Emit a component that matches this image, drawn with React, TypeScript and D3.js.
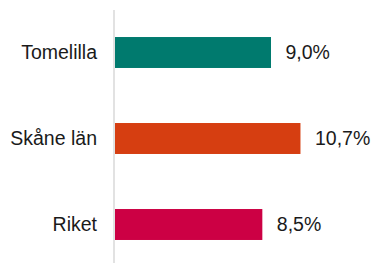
import React from "react";
import * as d3 from "d3";

const categories = ["Tomelilla", "Skåne län", "Riket"];
const values = [9.0, 10.7, 8.5];
const valueLabels = ["9,0%", "10,7%", "8,5%"];
const colors = ["#007A6E", "#D63E11", "#CC0044"];

const W = 373;
const H = 263;

export default function App() {
  const x = d3.scaleLinear().domain([0, 12]).range([115, 323]);
  const y = d3
    .scaleBand<string>()
    .domain(categories)
    .range([9.5, 267.5])
    .paddingInner(0.64)
    .paddingOuter(0.32);
  const font = "'Liberation Sans', Arial, sans-serif";
  return (
    <svg
      width={W}
      height={H}
      style={{ position: "absolute", left: 0, top: 0, background: "#fff" }}
      fontFamily={font}
    >
      <line x1={114} x2={114} y1={10} y2={263} stroke="#d9d9d9" strokeWidth={1.5} />
      {categories.map((c, i) => {
        const yc = (y(c) as number) + y.bandwidth() / 2;
        return (
          <g key={c}>
            <rect
              x={x(0)}
              y={y(c)}
              width={x(values[i]) - x(0)}
              height={y.bandwidth()}
              fill={colors[i]}
            />
            <text x={97} y={yc + 6.8} textAnchor="end" fontSize={19.5} fill="#1a1a1a">
              {c}
            </text>
            <text x={x(values[i]) + 14.5} y={yc + 6.8} textAnchor="start" fontSize={19.5} fill="#1a1a1a">
              {valueLabels[i]}
            </text>
          </g>
        );
      })}
    </svg>
  );
}
